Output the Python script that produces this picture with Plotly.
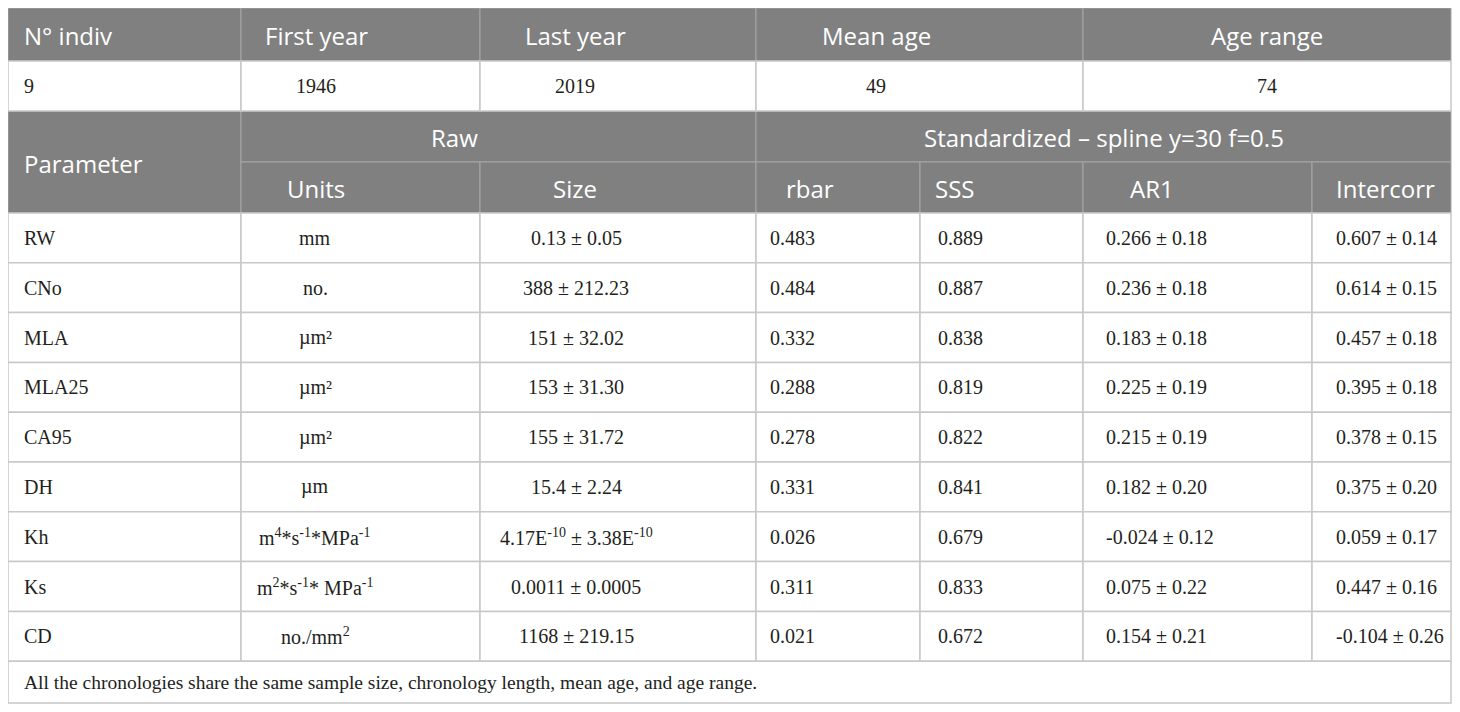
import plotly.graph_objects as go

# ---- table content ----
top_headers = ["N° indiv", "First year", "Last year", "Mean age", "Age range"]
top_values = ["9", "1946", "2019", "49", "74"]
group_headers = ["Parameter", "Raw", "Standardized – spline y=30 f=0.5"]
sub_headers = ["Units", "Size", "rbar", "SSS", "AR1", "Intercorr"]

parameters = ["RW", "CNo", "MLA", "MLA25", "CA95", "DH", "Kh", "Ks", "CD"]
units = ["mm", "no.", "µm²", "µm²", "µm²", "µm",
         "m<sup>4</sup>*s<sup>-1</sup>*MPa<sup>-1</sup>",
         "m<sup>2</sup>*s<sup>-1</sup>* MPa<sup>-1</sup>",
         "no./mm<sup>2</sup>"]
size_mean = ["0.13", "388", "151", "153", "155", "15.4", "4.17E<sup>-10</sup>", "0.0011", "1168"]
size_sd = ["0.05", "212.23", "32.02", "31.30", "31.72", "2.24", "3.38E<sup>-10</sup>", "0.0005", "219.15"]
rbar = [0.483, 0.484, 0.332, 0.288, 0.278, 0.331, 0.026, 0.311, 0.021]
sss = [0.889, 0.887, 0.838, 0.819, 0.822, 0.841, 0.679, 0.833, 0.672]
ar1_mean = [0.266, 0.236, 0.183, 0.225, 0.215, 0.182, -0.024, 0.075, 0.154]
ar1_sd = [0.18, 0.18, 0.18, 0.19, 0.19, 0.20, 0.12, 0.22, 0.21]
intercorr_mean = [0.607, 0.614, 0.457, 0.395, 0.378, 0.375, 0.059, 0.447, -0.104]
intercorr_sd = [0.14, 0.15, 0.18, 0.18, 0.15, 0.20, 0.17, 0.16, 0.26]
footnote = "All the chronologies share the same sample size, chronology length, mean age, and age range."

# ---- geometry / style ----
# the page body has an 8px margin, so the plot div starts at (8, 8)
W, H = 1460, 712
col_x = [8, 241, 480, 756, 920, 1083, 1312, 1451]
head_y = [8, 61, 111, 162, 213]
row_h = 49.8
foot_bottom = 703

HEAD_FILL = "#808080"
HEAD_LINE = "#a6a6a6"
BODY_LINE = "#c8c8c8"
TEXT = "#231f20"
SANS = "Open Sans, Noto Sans, sans-serif"
SERIF = "Liberation Serif, Times New Roman, serif"

top_spans = [(0, 1), (1, 2), (2, 3), (3, 5), (5, 7)]
top_pos = [(22, "left"), (316, "center"), (575, "center"), (876, "center"), (1267, "center")]
group_spans = [(0, 1), (1, 3), (3, 7)]
group_pos = [(22, "left"), (454, "center"), (1104, "center")]
sub_pos = [(316, "center"), (575, "center"), (784, "left"), (933, "left"), (1152, "center"), (1334, "left")]
body_pos = [(22, "left"), (315, "center"), (576, "center"), (768, "left"),
            (936, "left"), (1104, "left"), (1334, "left")]

fig = go.Figure()


def cell(c0, c1, y0, y1, header):
    fig.add_shape(type="rect", xref="x", yref="y",
                  x0=col_x[c0], x1=col_x[c1], y0=y0, y1=y1,
                  fillcolor=HEAD_FILL if header else "white",
                  line=dict(color=HEAD_LINE if header else BODY_LINE,
                            width=1 if header else 1.5),
                  layer="below")


def label(x, y, text, align, header, dy=0, size=None):
    fig.add_annotation(x=x, y=y + dy, xref="x", yref="y", text=text,
                       showarrow=False, xanchor=align, yanchor="middle",
                       font=dict(family=SANS if header else SERIF,
                                 size=size or (24 if header else 20),
                                 color="white" if header else TEXT))


# header row 1 and value row 2
for (c0, c1), (x, a), t in zip(top_spans, top_pos, top_headers):
    cell(c0, c1, head_y[0], head_y[1], True)
    label(x, (head_y[0] + head_y[1]) / 2, t, a, True, 1)

# group header (rows 3-4)
cell(0, 1, head_y[2], head_y[4], True)
label(group_pos[0][0], (head_y[2] + head_y[4]) / 2, group_headers[0], "left", True, 1)
for (c0, c1), (x, a), t in zip(group_spans[1:], group_pos[1:], group_headers[1:]):
    cell(c0, c1, head_y[2], head_y[3], True)
    label(x, (head_y[2] + head_y[3]) / 2, t, a, True, 1)
for i, ((x, a), t) in enumerate(zip(sub_pos, sub_headers)):
    cell(i + 1, i + 2, head_y[3], head_y[4], True)
    label(x, (head_y[3] + head_y[4]) / 2, t, a, True, 1)

for (c0, c1), (x, a), t in zip(top_spans, top_pos, top_values):
    cell(c0, c1, head_y[1], head_y[2], False)
    label(x, (head_y[1] + head_y[2]) / 2, t, a, False)

# data rows
for r, p in enumerate(parameters):
    y0 = head_y[4] + r * row_h
    y1 = y0 + row_h
    texts = [p, units[r], f"{size_mean[r]} ± {size_sd[r]}",
             f"{rbar[r]:.3f}", f"{sss[r]:.3f}",
             f"{ar1_mean[r]:.3f} ± {ar1_sd[r]:.2f}",
             f"{intercorr_mean[r]:.3f} ± {intercorr_sd[r]:.2f}"]
    for c, ((x, a), t) in enumerate(zip(body_pos, texts)):
        cell(c, c + 1, y0, y1, False)
        label(x, (y0 + y1) / 2, t, a, False)

# footnote
foot_top = head_y[4] + len(parameters) * row_h
cell(0, 7, foot_top, foot_bottom, False)
label(22, (foot_top + foot_bottom) / 2, footnote, "left", False, size=19.5)

fig.update_xaxes(range=[8, W], visible=False, fixedrange=True)
fig.update_yaxes(range=[H, 8], visible=False, fixedrange=True)
fig.update_layout(width=W - 8, height=H - 8, margin=dict(l=0, r=0, t=0, b=0),
                  paper_bgcolor="white", plot_bgcolor="white", showlegend=False)

fig.write_html("out.html")
